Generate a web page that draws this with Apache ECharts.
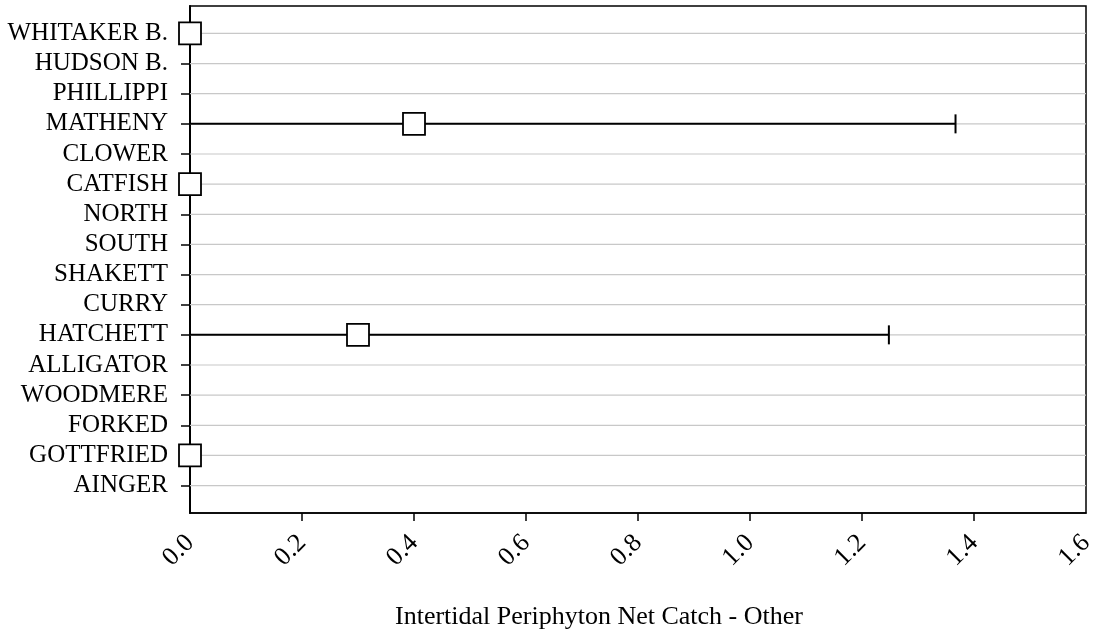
<!DOCTYPE html>
<html>
<head>
<meta charset="utf-8">
<script src="https://cdn.jsdelivr.net/npm/echarts@6/dist/echarts.min.js"></script>
<style>
  html, body { margin: 0; padding: 0; background: #fff; }
  #chart { width: 1099px; height: 639px; }
</style>
</head>
<body>
<div id="chart"></div>
<script>
// Sites, top to bottom
const categories = [
  'WHITAKER B.', 'HUDSON B.', 'PHILLIPPI', 'MATHENY', 'CLOWER', 'CATFISH',
  'NORTH', 'SOUTH', 'SHAKETT', 'CURRY', 'HATCHETT', 'ALLIGATOR',
  'WOODMERE', 'FORKED', 'GOTTFRIED', 'AINGER'
];
// Mean net catch per site (null = no sample)
const means = [0, null, null, 0.40, null, 0, null, null, null, null, 0.30, null, null, null, 0, null];
// Error bar bounds
const lows  = [0, null, null, 0, null, 0, null, null, null, null, 0, null, null, null, 0, null];
const highs = [0, null, null, 1.367, null, 0, null, null, null, null, 1.248, null, null, null, 0, null];
// Axis ticks
const xTicks = [0, 0.2, 0.4, 0.6, 0.8, 1.0, 1.2, 1.4, 1.6];
const xTitle = 'Intertidal Periphyton Net Catch - Other';

const FONT = '"Liberation Serif", "Times New Roman", serif';
const rowIdx = categories.map((_, i) => i);

const pointData = [];
const barData = [];
categories.forEach((c, i) => {
  if (means[i] !== null) pointData.push([means[i], i]);
  if (highs[i] !== null && highs[i] > lows[i]) barData.push([i, lows[i], highs[i]]);
});

const chart = echarts.init(document.getElementById('chart'), null, { renderer: 'canvas' });

chart.setOption({
  backgroundColor: '#fff',
  animation: false,
  grid: {
    left: 190, right: 13, top: 6, bottom: 126,
    show: true, borderColor: '#000', borderWidth: 1.5, backgroundColor: 'transparent'
  },
  xAxis: {
    type: 'value', min: 0, max: 1.6, interval: 0.2, position: 'bottom',
    axisLine: { show: true, onZero: false, lineStyle: { color: '#000', width: 1.5 } },
    axisTick: { show: true, inside: false, length: 8, customValues: xTicks.slice(1, -1),
                lineStyle: { color: '#000', width: 1.5 } },
    axisLabel: {
      rotate: 45, margin: 26, color: '#000', fontFamily: FONT, fontSize: 26,
      customValues: xTicks,
      formatter: v => v.toFixed(1)
    },
    splitLine: { show: false }
  },
  yAxis: {
    type: 'value', inverse: true, min: -0.91, max: 15.91,
    axisLine: { show: true, onZero: false, lineStyle: { color: '#000', width: 2 } },
    axisTick: { show: true, inside: false, length: 9, customValues: rowIdx,
                lineStyle: { color: '#000', width: 1.5 } },
    axisLabel: {
      margin: 22, color: '#000', fontFamily: FONT, fontSize: 25,
      customValues: rowIdx,
      formatter: v => categories[Math.round(v)]
    },
    splitLine: { show: false }
  },
  graphic: [{
    type: 'text', x: 599, y: 617,
    style: { text: xTitle, fill: '#000', font: '26px ' + FONT, textAlign: 'center', textVerticalAlign: 'middle' }
  }],
  series: [
    {
      // horizontal reference line for each site row
      type: 'custom', z: 1, silent: true, clip: false,
      data: rowIdx.map(i => [i]),
      encode: { y: 0 },
      renderItem: (params, api) => {
        const cs = params.coordSys;
        const y = api.coord([0, api.value(0)])[1];
        return {
          type: 'line',
          shape: { x1: cs.x, y1: y, x2: cs.x + cs.width, y2: y },
          style: { stroke: '#c8c8c8', lineWidth: 1.2 }
        };
      }
    },
    {
      // error bars with an end cap at the upper bound
      type: 'custom', z: 3, clip: false,
      data: barData,
      encode: { y: 0, x: [1, 2] },
      renderItem: (params, api) => {
        const y = api.value(0);
        const p0 = api.coord([api.value(1), y]);
        const p1 = api.coord([api.value(2), y]);
        const cap = 9.5;
        return {
          type: 'group',
          children: [
            { type: 'line', shape: { x1: p0[0], y1: p0[1], x2: p1[0], y2: p1[1] },
              style: { stroke: '#000', lineWidth: 2 } },
            { type: 'line', shape: { x1: p1[0], y1: p1[1] - cap, x2: p1[0], y2: p1[1] + cap },
              style: { stroke: '#000', lineWidth: 2 } }
          ]
        };
      }
    },
    {
      type: 'scatter', z: 5, clip: false,
      symbol: 'rect', symbolSize: 22,
      itemStyle: { color: '#fff', borderColor: '#000', borderWidth: 1.8, opacity: 1 },
      data: pointData
    }
  ]
});
</script>
</body>
</html>
